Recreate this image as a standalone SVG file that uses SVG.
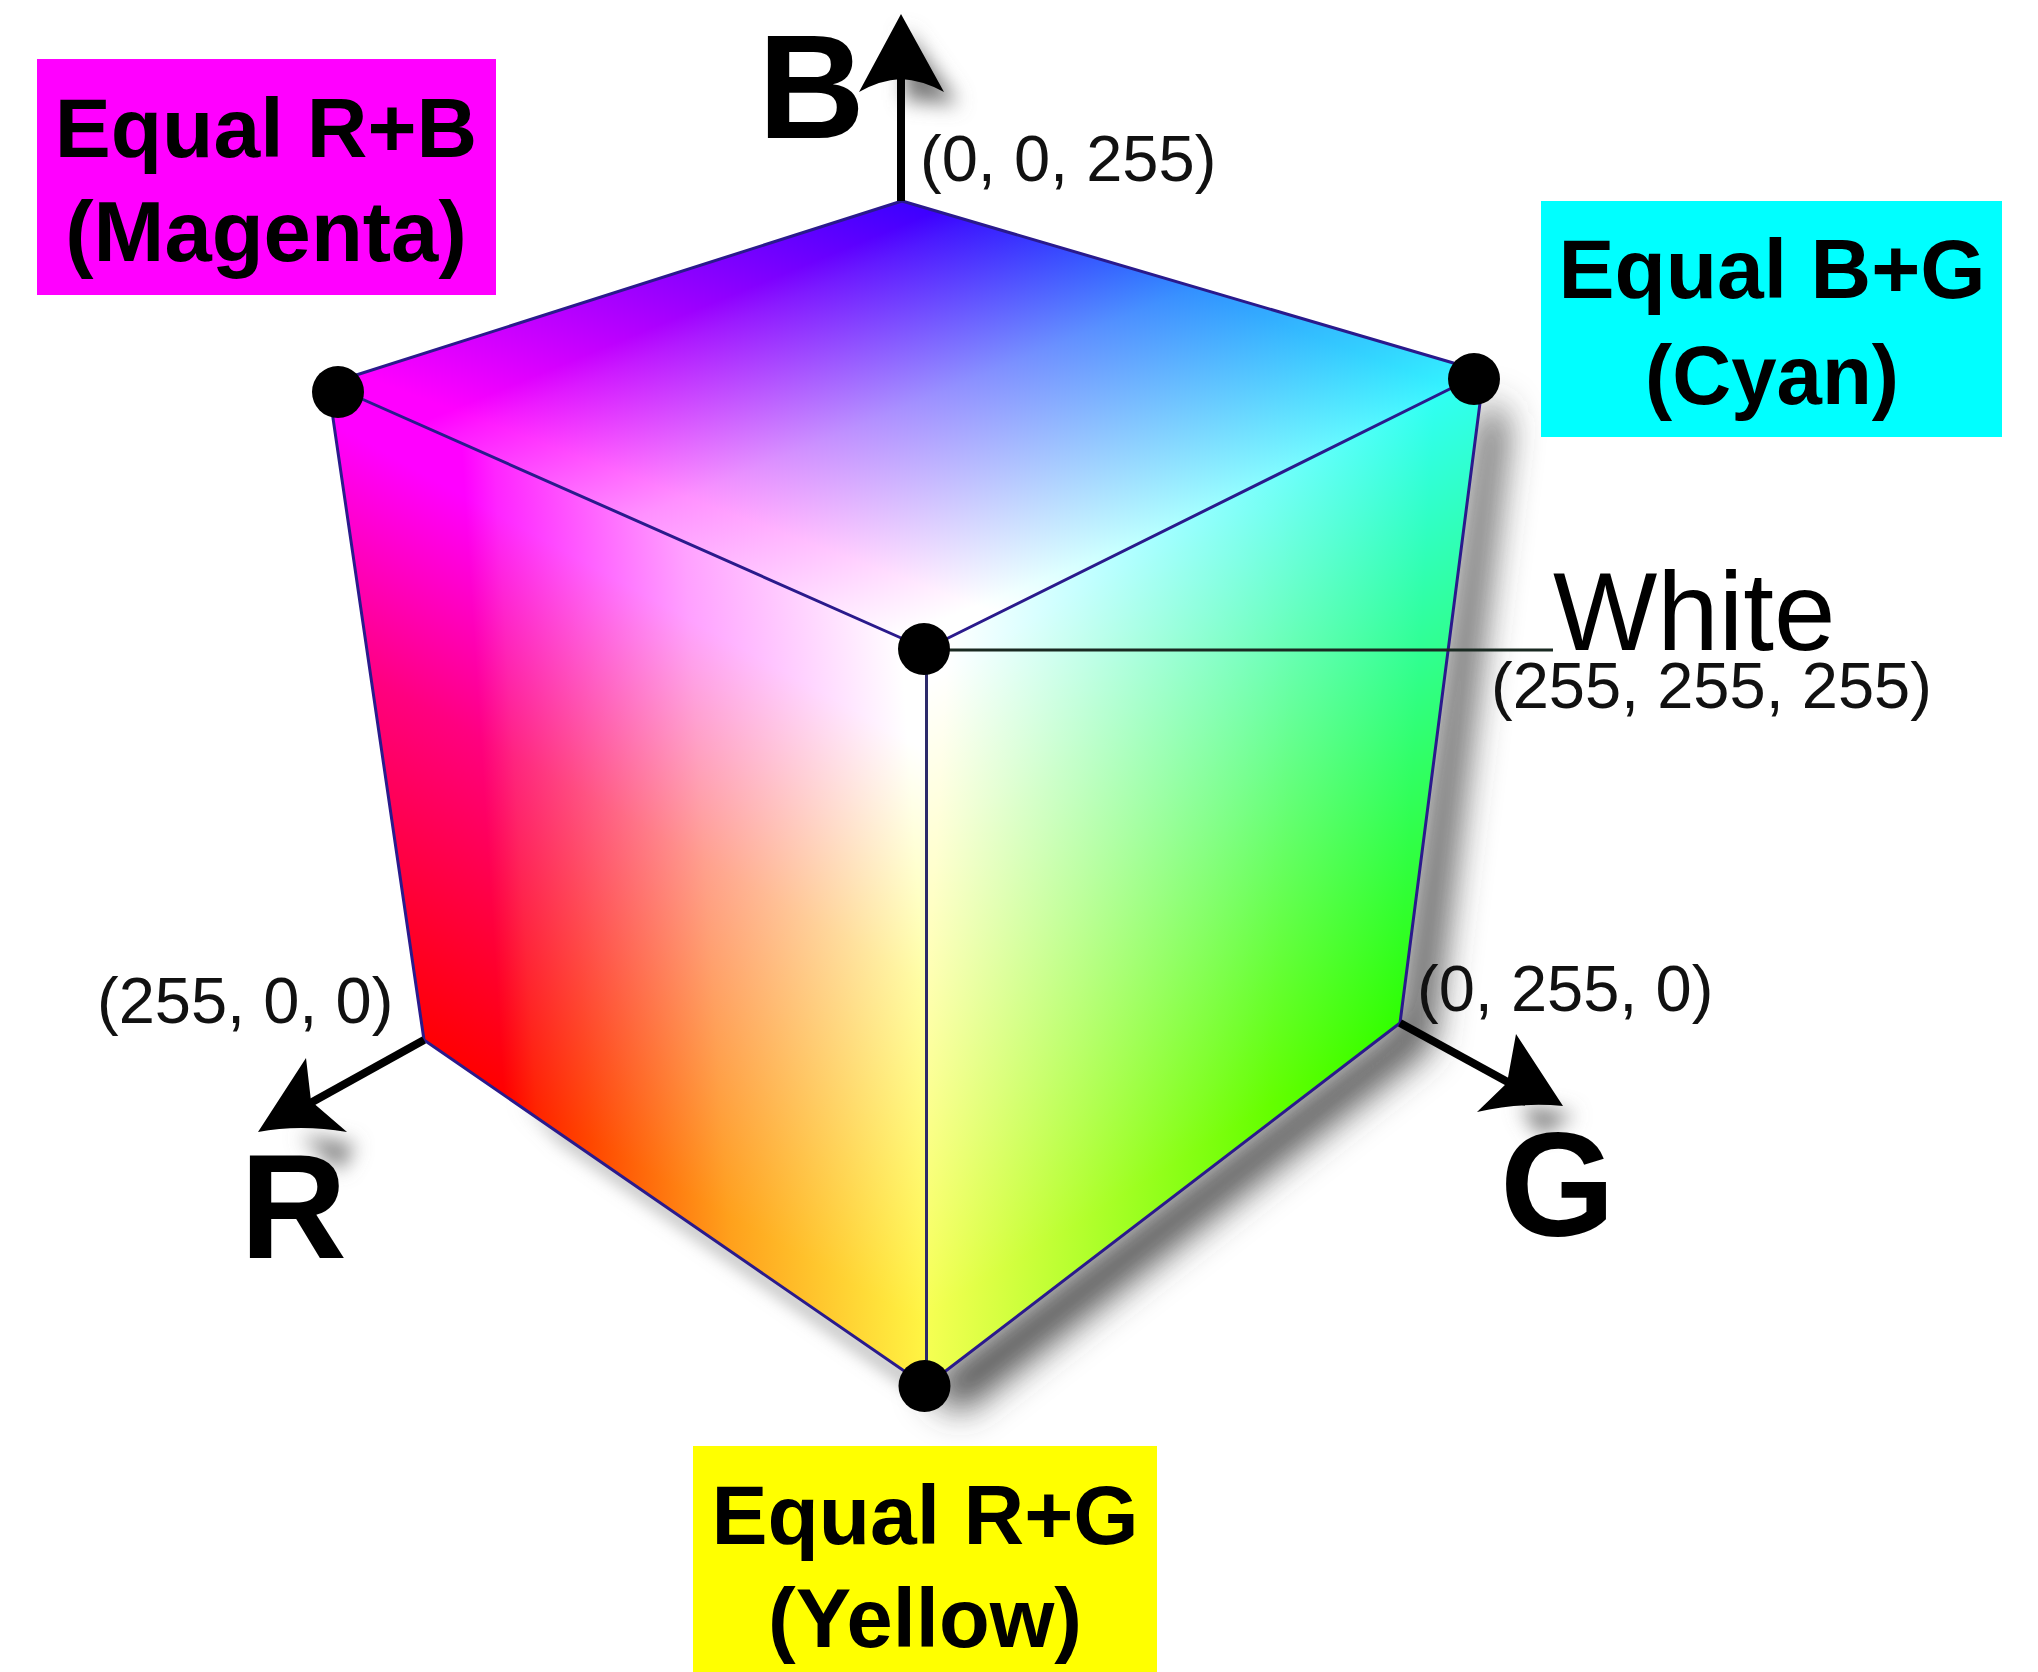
<svg xmlns="http://www.w3.org/2000/svg" width="2038" height="1672" viewBox="0 0 2038 1672">
<style>
.sans{font-family:"Liberation Sans",Arial,sans-serif}
.lab{font-size:84px;font-weight:700;fill:#000;text-anchor:middle}
.axis{font-size:148px;font-weight:700;fill:#000}
.val{font-size:65px;fill:#111}
.add{mix-blend-mode:screen}
.face{isolation:isolate}
.edge{fill:none;stroke:#2a1a8c;stroke-width:3;stroke-linejoin:round}
.ax{fill:none;stroke:#000;stroke-width:8}
.dot{fill:#000}
</style>
<defs>
<filter id="soft" x="-20%" y="-20%" width="140%" height="140%"><feGaussianBlur stdDeviation="18"/></filter>
<filter id="softlow" x="-20%" y="-20%" width="140%" height="140%"><feGaussianBlur stdDeviation="9"/></filter>
<filter id="softer" x="-60%" y="-60%" width="220%" height="220%"><feGaussianBlur stdDeviation="10"/></filter>
<clipPath id="cTop"><polygon points="902,201 1484,372 924,649 328,384"/></clipPath>
<clipPath id="cLeft"><polygon points="328,384 926,649 926,1386 424,1040"/></clipPath>
<clipPath id="cRight"><polygon points="926,649 1484,372 1400,1023 926,1386"/></clipPath>
<linearGradient id="topG" gradientUnits="userSpaceOnUse" x1="0" y1="0" x2="1" y2="0" gradientTransform="matrix(585 217 -563 231 618 296)">
<stop offset=".1" stop-color="#000"/><stop offset=".16" stop-color="#001a00"/><stop offset=".5" stop-color="#009000"/><stop offset="1" stop-color="#0f0"/></linearGradient>
<linearGradient id="topR" gradientUnits="userSpaceOnUse" x1="0" y1="0" x2="1" y2="0" gradientTransform="matrix(-563 230 581 217 1192 290)">
<stop offset="0" stop-color="#300"/><stop offset=".9" stop-color="#f00"/><stop offset="1" stop-color="#f00"/></linearGradient>
<linearGradient id="leftG" gradientUnits="userSpaceOnUse" x1="0" y1="0" x2="1" y2="0" gradientTransform="matrix(547 301 45 690 379 716)">
<stop offset=".19" stop-color="#000"/><stop offset=".25" stop-color="#002400"/><stop offset=".6" stop-color="#00a000"/><stop offset="1" stop-color="#0f0"/></linearGradient>
<linearGradient id="leftB" gradientUnits="userSpaceOnUse" x1="0" y1="0" x2="1" y2="0" gradientTransform="matrix(-45 -693 547 301 675 1213)">
<stop offset=".04" stop-color="#000"/><stop offset=".55" stop-color="#000080"/><stop offset=".9" stop-color="#00f"/></linearGradient>
<linearGradient id="leftW" gradientUnits="userSpaceOnUse" x1="0" y1="0" x2="1" y2="0" gradientTransform="matrix(547 301 45 690 379 716)">
<stop offset=".35" stop-color="#000"/><stop offset="1" stop-color="#000048"/></linearGradient>
<linearGradient id="rightR" gradientUnits="userSpaceOnUse" x1="0" y1="0" x2="1" y2="0" gradientTransform="matrix(516 -318 -41 689 926 1017)">
<stop offset="0" stop-color="#f00"/><stop offset=".5" stop-color="#900000"/><stop offset=".95" stop-color="#300000"/></linearGradient>
<linearGradient id="rightB" gradientUnits="userSpaceOnUse" x1="0" y1="0" x2="1" y2="0" gradientTransform="matrix(42 -694 516 -318 1163 1204)">
<stop offset=".05" stop-color="#000"/><stop offset=".55" stop-color="#000088"/><stop offset="1" stop-color="#00f"/></linearGradient>
<linearGradient id="rightW" gradientUnits="userSpaceOnUse" x1="0" y1="0" x2="1" y2="0" gradientTransform="matrix(516 -318 -41 689 926 1017)">
<stop offset="0" stop-color="#000058"/><stop offset=".7" stop-color="#000"/></linearGradient>
</defs>
<rect width="2038" height="1672" fill="#fff"/>

<g id="shadows">
<polygon points="1484,400 1506,420 1430,1045 960,1412 926,1386 1400,1023" fill="#444" filter="url(#soft)"/>
<polygon points="520,1100 926,1386 926,1398 560,1140" fill="#999" filter="url(#softlow)"/>
<path d="M905,30 L958,104 L905,100 Z" fill="#777" filter="url(#softer)"/>
<path d="M300,1135 L355,1145 L340,1170 Z" fill="#777" filter="url(#softer)"/>
<path d="M1520,1105 L1575,1115 L1540,1135 Z" fill="#777" filter="url(#softer)"/>
</g>

<g id="cube">
<g id="face-top" class="face" clip-path="url(#cTop)">
<rect x="300" y="180" width="1200" height="500" fill="#00f"/>
<rect class="add" x="300" y="180" width="1200" height="500" fill="url(#topR)"/>
<rect class="add" x="300" y="180" width="1200" height="500" fill="url(#topG)"/>
</g>
<g id="face-left" class="face" clip-path="url(#cLeft)">
<rect x="300" y="370" width="640" height="1030" fill="#f00"/>
<rect class="add" x="300" y="370" width="640" height="1030" fill="url(#leftG)"/>
<rect class="add" x="300" y="370" width="640" height="1030" fill="url(#leftB)"/>
<rect class="add" x="300" y="370" width="640" height="1030" fill="url(#leftW)"/>
</g>
<g id="face-right" class="face" clip-path="url(#cRight)">
<rect x="920" y="360" width="580" height="1040" fill="#0f0"/>
<rect class="add" x="920" y="360" width="580" height="1040" fill="url(#rightR)"/>
<rect class="add" x="920" y="360" width="580" height="1040" fill="url(#rightB)"/>
<rect class="add" x="920" y="360" width="580" height="1040" fill="url(#rightW)"/>
</g>
<polygon class="edge" points="902,201 1484,372 1400,1023 926,1386 424,1040 328,384"/>
<polyline class="edge" points="328,384 926,649 1484,372"/>
<line x1="926.500" y1="649" x2="926.500" y2="1386" stroke="#2c2a6a" stroke-width="3"/>
</g>

<g id="connectors">
<line id="leader-white" x1="924" y1="650" x2="1553" y2="650" stroke="#1a2a22" stroke-width="3"/>
<g id="axis-b"><line class="ax" x1="901" y1="201" x2="901" y2="75"/><path d="M901,14 L944,92 Q922,80 901,79 Q880,80 859,92 Z" fill="#000"/></g>
<g id="axis-r"><line class="ax" x1="424" y1="1040" x2="305" y2="1106"/><path d="M258,1132 L306,1058 L311,1101 L347,1132 Q300,1124 258,1132 Z" fill="#000"/></g>
<g id="axis-g"><line class="ax" x1="1400" y1="1023" x2="1515" y2="1086"/><path d="M1563,1106 L1516,1034 L1507,1083 L1477,1112 Q1520,1102 1563,1106 Z" fill="#000"/></g>
</g>

<g id="dot-magenta"><circle class="dot" cx="338" cy="392" r="26"/></g>
<g id="dot-cyan"><circle class="dot" cx="1474" cy="379" r="26"/></g>
<g id="dot-white"><circle class="dot" cx="924" cy="649" r="26"/></g>
<g id="dot-yellow"><circle class="dot" cx="924.500" cy="1386" r="26"/></g>

<g id="label-b"><text class="sans axis" x="758" y="138">B</text><text class="sans val" x="920" y="181">(0, 0, 255)</text></g>
<g id="label-r"><text class="sans axis" x="240" y="1258">R</text><text class="sans val" x="97" y="1023">(255, 0, 0)</text></g>
<g id="label-g"><text class="sans axis" x="1500" y="1236">G</text><text class="sans val" x="1417" y="1011">(0, 255, 0)</text></g>
<g id="label-white"><text class="sans" x="1553" y="650" font-size="110.500" fill="#000">White</text><text class="sans val" x="1491" y="708">(255, 255, 255)</text></g>

<g id="box-magenta"><rect x="37" y="59" width="459" height="236" fill="#f0f"/><text class="sans lab" x="266" y="157">Equal R+B</text><text class="sans lab" x="266" y="261" style="font-size:85px">(Magenta)</text></g>
<g id="box-cyan"><rect x="1541" y="201" width="461" height="236" fill="#0ff"/><text class="sans lab" x="1772" y="298">Equal B+G</text><text class="sans lab" x="1772" y="404" textLength="254" lengthAdjust="spacingAndGlyphs">(Cyan)</text></g>
<g id="box-yellow"><rect x="693" y="1446" width="464" height="226" fill="#ff0"/><text class="sans lab" x="925" y="1544">Equal R+G</text><text class="sans lab" x="925" y="1647" textLength="314" lengthAdjust="spacingAndGlyphs">(Yellow)</text></g>
</svg>
